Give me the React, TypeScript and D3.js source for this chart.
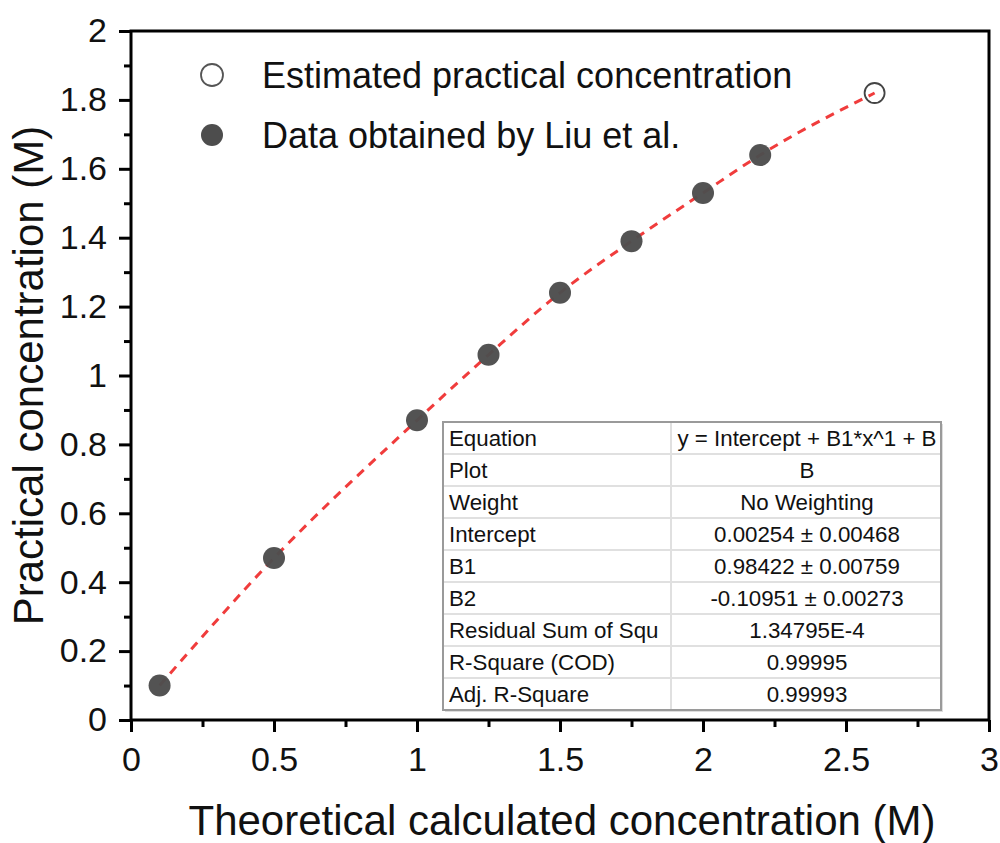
import React, { useRef, useEffect } from 'react'
import * as d3 from 'd3'

const xTicks = [0, 0.5, 1, 1.5, 2, 2.5, 3]
const yTicks = [0, 0.2, 0.4, 0.6, 0.8, 1, 1.2, 1.4, 1.6, 1.8, 2]

const measuredX = [0.1, 0.5, 1, 1.25, 1.5, 1.75, 2, 2.2]
const measuredY = [0.1, 0.47, 0.87, 1.06, 1.24, 1.39, 1.53, 1.64]
const estimatedX = [2.6]
const estimatedY = [1.82]

const tableLabels = ['Equation', 'Plot', 'Weight', 'Intercept', 'B1', 'B2', 'Residual Sum of Squ', 'R-Square (COD)', 'Adj. R-Square']
const tableValues = ['y = Intercept + B1*x^1 + B', 'B', 'No Weighting', '0.00254 ± 0.00468', '0.98422 ± 0.00759', '-0.10951 ± 0.00273', '1.34795E-4', '0.99995', '0.99993']

const legendLabels = ['Estimated practical concentration', 'Data obtained by Liu et al.']

const W = 1000, H = 843
const margin = { left: 131, right: 11, top: 31, bottom: 123 }
const FONT = '"Liberation Sans", Arial, sans-serif'

const App = () => {
    const ref = useRef<SVGSVGElement>(null)

    useEffect(() => {
        if (!ref.current) return
        const svg = d3.select(ref.current)
        svg.selectAll('*').remove()

        const x = d3.scaleLinear().domain([0, 3]).range([margin.left, W - margin.right])
        const y = d3.scaleLinear().domain([0, 2]).range([H - margin.bottom, margin.top])

        const g = svg.append('g').style('font-family', FONT)

        // dashed fit line through the points
        const pts: [number, number][] = measuredX.map((v, i) => [v, measuredY[i]])
        pts.push([estimatedX[0], estimatedY[0]])
        const line = d3.line<[number, number]>()
            .x(d => x(d[0])).y(d => y(d[1]))
            .curve(d3.curveMonotoneX)
        g.append('path')
            .attr('d', line(pts))
            .attr('fill', 'none')
            .attr('stroke', '#f03c3c')
            .attr('stroke-width', 3)
            .attr('stroke-dasharray', '9,7')

        // points
        g.selectAll('.pt')
            .data(measuredX)
            .join('circle')
            .attr('cx', d => x(d))
            .attr('cy', (_, i) => y(measuredY[i]))
            .attr('r', 11)
            .attr('fill', '#4d4d4d')
            .attr('fill-opacity', 0.97)

        g.selectAll('.est')
            .data(estimatedX)
            .join('circle')
            .attr('cx', d => x(d))
            .attr('cy', (_, i) => y(estimatedY[i]))
            .attr('r', 10)
            .attr('fill', 'none')
            .attr('stroke', '#444')
            .attr('stroke-width', 1.8)

        // table
        const tx0 = 443, tx1 = 941, tcol = 671, ty0 = 422, rowH = 32
        const tfs = 22.3
        const tb = g.append('g')
        tb.append('rect')
            .attr('x', tx0 + 2).attr('y', ty0 + 2)
            .attr('width', tx1 - tx0).attr('height', rowH * tableLabels.length)
            .attr('fill', '#ddd')
        tb.append('rect')
            .attr('x', tx0).attr('y', ty0)
            .attr('width', tx1 - tx0).attr('height', rowH * tableLabels.length)
            .attr('fill', '#fff')
        tableLabels.forEach((lab, i) => {
            if (i > 0) {
                tb.append('line')
                    .attr('x1', tx0).attr('x2', tx1)
                    .attr('y1', ty0 + i * rowH).attr('y2', ty0 + i * rowH)
                    .attr('stroke', '#e0e0e0').attr('stroke-width', 2)
            }
            tb.append('text')
                .attr('x', tx0 + 6).attr('y', ty0 + i * rowH + 24)
                .attr('font-size', tfs).attr('fill', '#111')
                .text(lab)
            tb.append('text')
                .attr('x', (tcol + tx1) / 2 + 1).attr('y', ty0 + i * rowH + 24)
                .attr('text-anchor', 'middle')
                .attr('font-size', tfs).attr('fill', '#111')
                .text(tableValues[i])
        })
        tb.append('line')
            .attr('x1', tcol).attr('x2', tcol)
            .attr('y1', ty0).attr('y2', ty0 + rowH * tableLabels.length)
            .attr('stroke', '#e0e0e0').attr('stroke-width', 2)
        tb.append('rect')
            .attr('x', tx0).attr('y', ty0)
            .attr('width', tx1 - tx0).attr('height', rowH * tableLabels.length)
            .attr('fill', 'none').attr('stroke', '#9a9a9a').attr('stroke-width', 2)

        // legend
        const lg = g.append('g')
        lg.append('circle').attr('cx', 212).attr('cy', 75).attr('r', 11)
            .attr('fill', '#fff').attr('stroke', '#555').attr('stroke-width', 1.8)
        lg.append('circle').attr('cx', 212).attr('cy', 135).attr('r', 11)
            .attr('fill', '#4d4d4d')
        legendLabels.forEach((t, i) => {
            lg.append('text')
                .attr('x', 262).attr('y', 88 + i * 60)
                .attr('font-size', 36).attr('fill', '#111')
                .text(t)
        })

        // axes
        const xAxis = d3.axisBottom(x).tickValues(xTicks)
            .tickFormat(d => d3.format('~g')(d as number)).tickSize(12).tickPadding(15)
        const xa = g.append('g').attr('transform', `translate(0,${y(0)})`).call(xAxis)
        const xMinor = d3.axisBottom(x).tickValues(d3.range(0.25, 3, 0.5)).tickFormat(() => '').tickSize(7)
        g.append('g').attr('transform', `translate(0,${y(0)})`).call(xMinor)

        const yAxis = d3.axisLeft(y).tickValues(yTicks)
            .tickFormat(d => d3.format('~g')(d as number)).tickSize(12).tickPadding(12)
        g.append('g').attr('transform', `translate(${x(0)},0)`).call(yAxis)
        const yMinor = d3.axisLeft(y).tickValues(d3.range(0.1, 2, 0.2)).tickFormat(() => '').tickSize(7)
        g.append('g').attr('transform', `translate(${x(0)},0)`).call(yMinor)

        g.selectAll('.tick line').attr('stroke', '#000').attr('stroke-width', 3)
        g.selectAll('.domain').remove()
        g.selectAll('.tick text')
            .attr('font-size', 34).attr('font-family', FONT).attr('fill', '#111')
        xa.selectAll('.tick text').attr('dy', '0.71em')

        // frame
        g.append('rect')
            .attr('x', x(0)).attr('y', y(2))
            .attr('width', x(3) - x(0)).attr('height', y(0) - y(2))
            .attr('fill', 'none').attr('stroke', '#000').attr('stroke-width', 3)

        // titles
        g.append('text')
            .attr('x', (x(0) + x(3)) / 2 + 2).attr('y', 835)
            .attr('text-anchor', 'middle').attr('font-size', 42).attr('fill', '#111')
            .text('Theoretical calculated concentration (M)')
        g.append('text')
            .attr('transform', `translate(43,${(y(0) + y(2)) / 2}) rotate(-90)`)
            .attr('text-anchor', 'middle').attr('font-size', 42).attr('fill', '#111')
            .text('Practical concentration (M)')
    }, [])

    return (
        <svg ref={ref} width={W} height={H}
            style={{ position: 'absolute', left: 0, top: 0, background: '#fff' }} />
    )
}

export default App
